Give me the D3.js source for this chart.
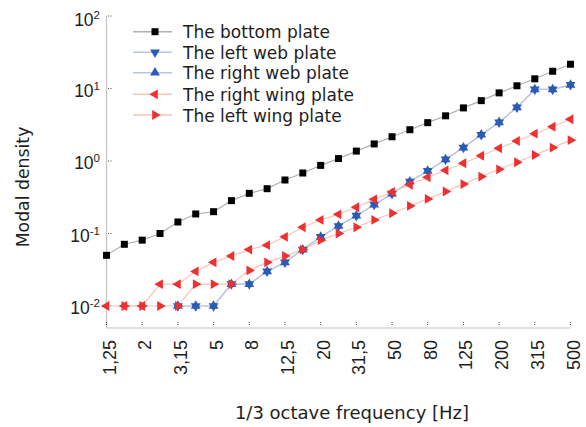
<!DOCTYPE html>
<html><head><meta charset="utf-8">
<script src="https://cdn.jsdelivr.net/npm/d3@7"></script>
<style>body{margin:0;background:#fff}svg{display:block}text{font-family:"DejaVu Sans",sans-serif;fill:#1e1e1e}.num{font-family:"Liberation Sans",Arial,sans-serif}</style>
</head><body><svg id="c" width="586" height="427"></svg>
<script>
const bands = ["1,25","1,6","2","2,5","3,15","4","5","6,3","8","10","12,5","16","20","25","31,5","40","50","63","80","100","125","160","200","250","315","400","500"];
const tickLabels = ["1,25","2","3,15","5","8","12,5","20","31,5","50","80","125","200","315","500"];
const yTicks = [0.01,0.1,1,10,100];
const yTickExp = ["-2","-1","0","1","2"];
const bottomPlate = [0.05,0.071,0.081,0.1,0.144,0.186,0.2,0.284,0.358,0.415,0.547,0.683,0.87,1.08,1.37,1.72,2.16,2.7,3.38,4.2,5.4,6.8,8.7,10.9,13.6,17.3,21.6];
const leftWeb = [null,null,null,null,0.01,0.01,0.01,0.02,0.02,0.03,0.04,0.06,0.09,0.127,0.176,0.25,0.354,0.52,0.73,1.05,1.53,2.3,3.42,5.5,9.7,9.7,11.2];
const rightWeb = [null,null,null,null,0.01,0.01,0.01,0.02,0.02,0.03,0.04,0.06,0.09,0.127,0.176,0.25,0.354,0.52,0.73,1.05,1.53,2.3,3.42,5.5,9.7,9.7,11.2];
const rightWing = [0.01,0.01,0.01,0.02,0.02,0.03,0.04,0.049,0.06,0.069,0.09,0.122,0.154,0.184,0.23,0.296,0.374,0.47,0.596,0.744,0.93,1.18,1.5,1.89,2.38,2.97,3.76];
const leftWing = [null,0.01,0.01,0.01,0.01,0.02,0.02,0.02,0.031,0.04,0.049,0.06,0.081,0.1,0.122,0.154,0.19,0.24,0.30,0.38,0.48,0.61,0.768,0.96,1.21,1.53,1.94];
const seriesNames = ["The bottom plate","The left web plate","The right web plate","The right wing plate","The left wing plate"];

const series = [
  {name:seriesNames[0], vals:bottomPlate, line:"#b0b0b0", fill:"#000", sym:"square", rot:0},
  {name:seriesNames[1], vals:leftWeb, line:"#b9c3e6", fill:"#2b5cb5", sym:"tri", rot:180},
  {name:seriesNames[2], vals:rightWeb, line:"#b9c3e6", fill:"#2b5cb5", sym:"tri", rot:0},
  {name:seriesNames[3], vals:rightWing, line:"#fac3b6", fill:"#ee3030", sym:"tri", rot:-90},
  {name:seriesNames[4], vals:leftWing, line:"#fac3b6", fill:"#ee3030", sym:"tri", rot:90}
];

const svg = d3.select("#c");
const x = d3.scalePoint().domain(bands).range([106.5,570.5]);
const y = d3.scaleLog().domain([0.01,100]).range([306,16]);
const axisY = 328;

svg.append("line").attr("x1",106.5).attr("x2",106.5).attr("y1",y(100)).attr("y2",axisY).attr("stroke","#c4c4c4").attr("stroke-width",1.2);
svg.append("line").attr("x1",106.5).attr("x2",x("500")).attr("y1",axisY).attr("y2",axisY).attr("stroke","#c4c4c4").attr("stroke-width",1.2);

const gy = svg.append("g");
yTicks.forEach((t,i)=>{
  gy.append("line").attr("x1",108).attr("x2",113).attr("y1",y(t)).attr("y2",y(t)).attr("stroke","#444").attr("stroke-width",1).attr("stroke-dasharray","1,1.5");
  const tx = gy.append("text").attr("class","num").attr("x",100).attr("y",y(t)+(i===4?10:8)).attr("text-anchor","end").style("font-size","17.5px");
  tx.append("tspan").text("10");
  tx.append("tspan").attr("dy",-7).style("font-size","11.5px").text(yTickExp[i]);
});

tickLabels.forEach(l=>{
  const xx = x(l);
  svg.append("line").attr("x1",xx).attr("x2",xx).attr("y1",axisY-6).attr("y2",axisY-2).attr("stroke","#444").attr("stroke-width",1).attr("stroke-dasharray","1,1");
  svg.append("text").attr("class","num").attr("transform",`translate(${xx+9},340) rotate(-90)`).attr("text-anchor","end").style("font-size","18px").text(l);
});

const lineGen = d3.line().defined(d=>d.v!=null).x(d=>x(d.b)).y(d=>y(d.v));
series.forEach(s=>{
  const data = bands.map((b,i)=>({b, v:s.vals[i]}));
  svg.append("path").datum(data).attr("d",lineGen).attr("fill","none").attr("stroke",s.line).attr("stroke-width",1.2);
});
function symPath(s){
  return s.sym==="square" ? d3.symbol(d3.symbolSquare,49)() : d3.symbol(d3.symbolTriangle,42)();
}
series.forEach(s=>{
  const data = bands.map((b,i)=>({b, v:s.vals[i]})).filter(d=>d.v!=null);
  svg.append("g").selectAll("path").data(data).join("path")
    .attr("d",symPath(s))
    .attr("transform",d=>`translate(${x(d.b)},${y(d.v)}) rotate(${s.rot})`)
    .attr("fill",s.fill);
});

const lg = svg.append("g");
const rows = [31.7,52.3,72.7,94.3,115];
series.forEach((s,i)=>{
  const ry = rows[i];
  lg.append("line").attr("x1",133).attr("x2",172).attr("y1",ry).attr("y2",ry).attr("stroke",s.line).attr("stroke-width",1.5);
  lg.append("path").attr("d",symPath(s)).attr("transform",`translate(155,${ry}) rotate(${s.rot})`).attr("fill",s.fill);
  lg.append("text").attr("x",183).attr("y",ry+6.5).style("font-size","17px").text(s.name);
});

svg.append("text").attr("transform","translate(29,187) rotate(-90)").attr("text-anchor","middle").style("font-size","17.3px").text("Modal density");
svg.append("text").attr("x",352).attr("y",419).attr("text-anchor","middle").style("font-size","18px").text("1/3 octave frequency [Hz]");
</script></body></html>
